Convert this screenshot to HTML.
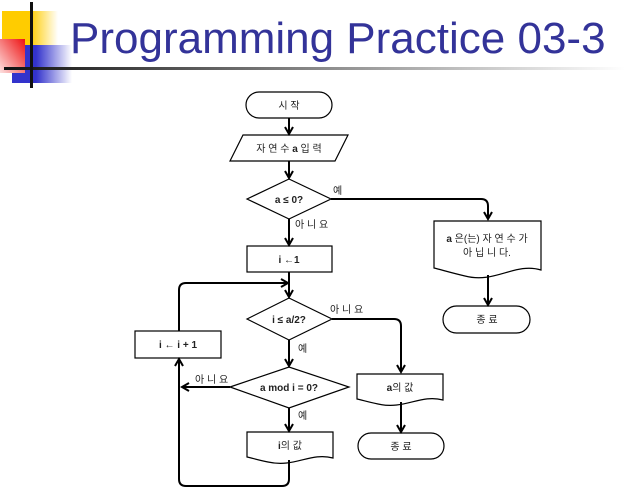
<!DOCTYPE html>
<html><head><meta charset="utf-8"><style>
html,body{margin:0;padding:0;background:#fff;width:625px;height:493px;overflow:hidden}
svg{display:block}
text{font-family:"Liberation Sans","Noto Sans CJK KR",sans-serif;font-size:10px;fill:#222}
.b{font-weight:bold}
</style></head><body>
<svg width="625" height="493" viewBox="0 0 625 493" xmlns="http://www.w3.org/2000/svg">
<defs>
<linearGradient id="gy" x1="0" x2="1"><stop offset="0.5" stop-color="#ffcc00"/><stop offset="1" stop-color="#ffcc00" stop-opacity="0"/></linearGradient>
<linearGradient id="gb" x1="0" x2="1"><stop offset="0.4" stop-color="#3333cc"/><stop offset="1" stop-color="#3333cc" stop-opacity="0"/></linearGradient>
<linearGradient id="gr" x1="1" y1="0" x2="0" y2="1"><stop offset="0" stop-color="#ee1111"/><stop offset="1" stop-color="#fde0e0"/></linearGradient>
<linearGradient id="gl" x1="0" x2="1"><stop offset="0" stop-color="#111"/><stop offset="1" stop-color="#fff"/></linearGradient>
<marker id="ar" markerWidth="10" markerHeight="10" refX="8" refY="5" orient="auto" markerUnits="userSpaceOnUse"><path d="M1,1 L8,5 L1,9" fill="none" stroke="#000" stroke-width="2"/></marker>
</defs>
<rect x="2" y="11" width="56" height="34" fill="url(#gy)"/>
<rect x="12" y="45" width="60" height="38" fill="url(#gb)"/>
<rect x="0" y="39" width="25" height="34" fill="url(#gr)"/>
<rect x="4" y="67" width="621" height="3" fill="url(#gl)"/>
<rect x="30" y="2" width="3" height="86" fill="#111"/>
<text x="70" y="53" style="font-size:44px;fill:#333399">Programming Practice 03-3</text>

<g fill="#fff" stroke="#000" stroke-width="1.2">
<rect x="246" y="92" width="86" height="26" rx="13"/>
<polygon points="243,135 348,135 335,161 230,161"/>
<polygon points="247,199 289,179 331,199 289,219"/>
<rect x="247" y="246" width="85" height="26"/>
<polygon points="247,319 289,298 332,319 289,340"/>
<polygon points="230,387 289,367 349,387 289,408"/>
<rect x="135" y="331" width="86" height="27"/>
<path d="M247,432 H333 V458 C310,452 295,468 268,462 C258,460 252,458 247,457 Z"/>
<path d="M357,374 H443 V400 C420,394 405,410 378,404 C368,402 362,400 357,399 Z"/>
<rect x="358" y="433" width="86" height="26" rx="13"/>
<path d="M434,221 H541 V270 C515,262 495,284 465,276 C452,273 442,270 434,268 Z"/>
<rect x="443" y="306" width="87" height="27" rx="13.5"/>
</g>

<g fill="none" stroke="#000" stroke-width="2">
<path d="M289,118 V134" marker-end="url(#ar)"/>
<path d="M289,161 V178" marker-end="url(#ar)"/>
<path d="M289,219 V245" marker-end="url(#ar)"/>
<path d="M289,272 V297" marker-end="url(#ar)"/>
<path d="M331,199 H481 Q488,199 488,206 V219" marker-end="url(#ar)"/>
<path d="M488,275 V305" marker-end="url(#ar)"/>
<path d="M332,319 H394 Q401,319 401,326 V372" marker-end="url(#ar)"/>
<path d="M401,402 V432" marker-end="url(#ar)"/>
<path d="M289,340 V366" marker-end="url(#ar)"/>
<path d="M289,408 V431" marker-end="url(#ar)"/>
<path d="M230,387 H182" marker-end="url(#ar)"/>
<path d="M179,331 V290 Q179,283 186,283 H288" marker-end="url(#ar)"/>
<path d="M289,460 V479 Q289,486 282,486 H186 Q179,486 179,479 V359" marker-end="url(#ar)"/>
</g>

<g text-anchor="middle">
<text x="289" y="109">시 작</text>
<text x="289" y="152">자 연 수 <tspan class="b">a</tspan> 입 력</text>
<text x="289" y="203" class="b">a ≤ 0?</text>
<text x="289" y="263" class="b">i ←1</text>
<text x="289" y="323" class="b">i ≤ a/2?</text>
<text x="289" y="391" class="b">a mod i = 0?</text>
<text x="178" y="348" class="b">i ← i + 1</text>
<text x="290" y="449"><tspan class="b">i</tspan>의 값</text>
<text x="400" y="391"><tspan class="b">a</tspan>의 값</text>
<text x="401" y="450">종 료</text>
<text x="487" y="242"><tspan class="b">a</tspan> 은(는) 자 연 수 가</text>
<text x="487" y="256">아 닙 니 다.</text>
<text x="487" y="323">종 료</text>
</g>
<text x="333" y="194">예</text>
<text x="295" y="228">아 니 요</text>
<text x="330" y="313">아 니 요</text>
<text x="298" y="352">예</text>
<text x="195" y="383">아 니 요</text>
<text x="298" y="419">예</text>
</svg>
</body></html>
